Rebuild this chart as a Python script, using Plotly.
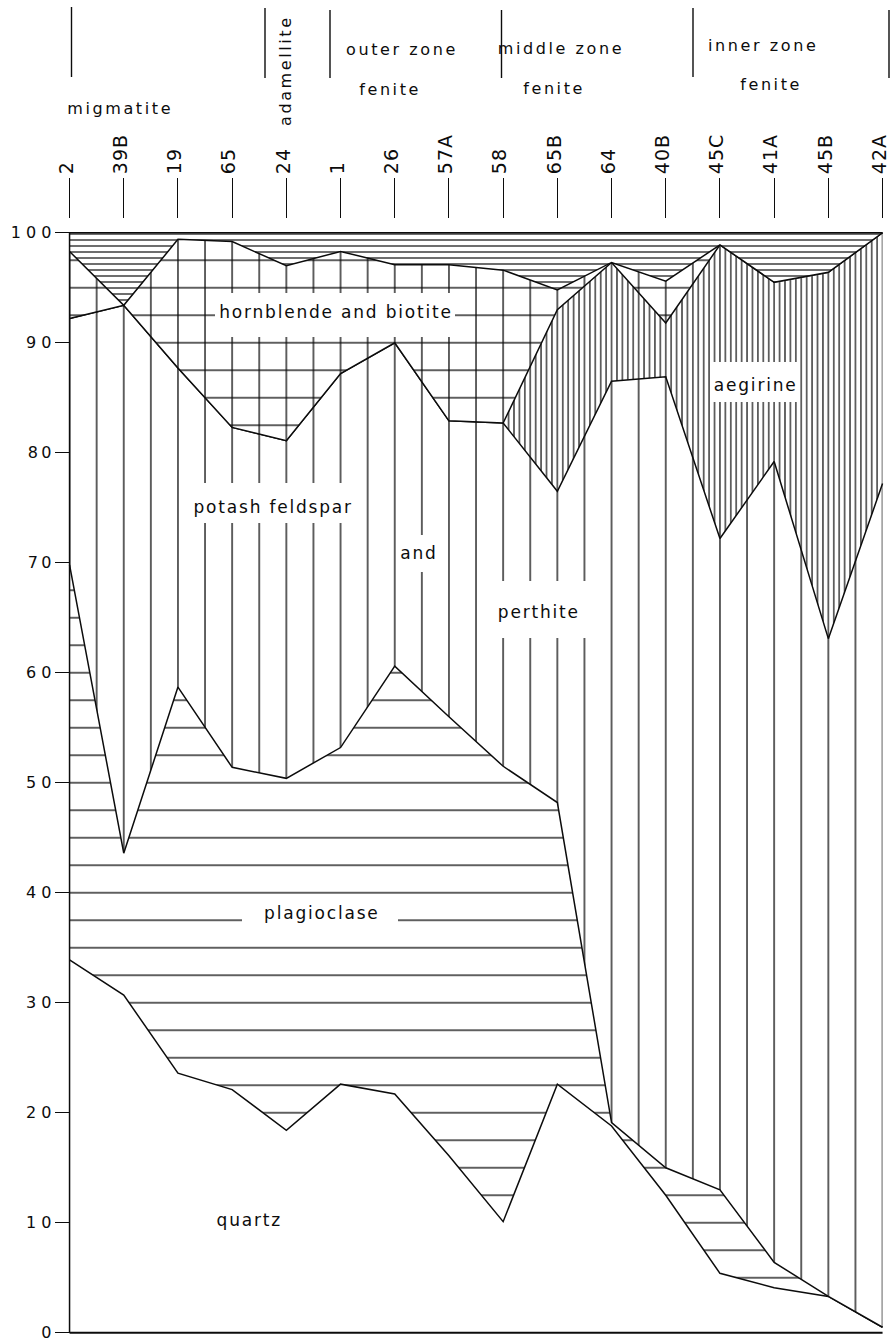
from itertools import accumulate

import plotly.graph_objects as go

# Samples along the traverse, from migmatite through the fenite zones
samples = ["2", "39B", "19", "65", "24", "1", "26", "57A", "58",
           "65B", "64", "40B", "45C", "41A", "45B", "42A"]

# Modal composition, volume per cent (stacked bottom to top)
quartz = [33.9, 30.7, 23.6, 22.1, 18.4, 22.6, 21.7, 16.1, 10.1,
          22.6, 18.8, 12.5, 5.4, 4.1, 3.3, 0.5]
plagioclase = [35.9, 12.9, 35.1, 29.3, 32.0, 30.6, 38.9, 39.9, 41.4,
               25.6, 0.3, 2.5, 7.6, 2.3, 0.0, 0.0]
potash_feldspar_perthite = [22.4, 49.8, 29.0, 30.9, 30.7, 34.0, 29.4, 26.9, 31.2,
                            28.3, 67.4, 71.9, 59.2, 72.8, 59.8, 76.7]
aegirine = [0.0, 0.0, 0.0, 0.0, 0.0, 0.0, 0.0, 0.0, 0.0,
            16.5, 10.8, 4.9, 26.7, 16.3, 33.3, 22.8]
hornblende_biotite = [6.1, 0.0, 11.7, 16.9, 15.9, 11.1, 7.1, 14.2, 13.9,
                      1.8, 0.0, 3.8, 0.0, 0.0, 0.0, 0.0]
accessories = [1.7, 6.6, 0.6, 0.8, 3.0, 1.7, 2.9, 2.9, 3.4,
               5.2, 2.7, 4.4, 1.1, 4.5, 3.6, 0.0]

y_tick_vals = [0, 10, 20, 30, 40, 50, 60, 70, 80, 90, 100]
y_tick_text = ["0", "1 0", "2 0", "3 0", "4 0", "5 0", "6 0",
               "7\u20090", "8\u20090", "9 0", "1 0 0"]

# ---- page geometry (pixels) ----
FIG_W, FIG_H = 892, 1341
STEP = 54.2             # pixels per sample
HX = STEP / 2           # vertical hatch spacing (half a sample)
UNIT = 11.0             # pixels per per-cent
HY = 2.5 * UNIT         # horizontal hatch spacing (2.5 %)
M_L, M_T, M_B, M_R = 56, 219, 5, 0
PLOT_W = FIG_W - M_L - M_R
PLOT_H = FIG_H - M_T - M_B
X_FIRST = M_L + HX / 2             # pixel column of the first sample
Y_HUNDRED = M_T + HY / 2           # pixel row of 100 %
Y_ZERO = Y_HUNDRED + 100 * UNIT
x_range = [-(X_FIRST - M_L) / STEP, (FIG_W - M_R - X_FIRST) / STEP]
y_range = [-(M_T + PLOT_H - Y_ZERO) / UNIT, 100 + (Y_HUNDRED - M_T) / UNIT]

INK = "#0c0c0c"
FONT = "DejaVu Sans"
LW = 1.5


def px_x(px):
    return (px - X_FIRST) / STEP


def px_val(py):
    return (Y_ZERO - py) / UNIT


def px_paper_y(py):
    return (M_T + PLOT_H - py) / PLOT_H


def px_paper_x(px):
    return (px - M_L) / PLOT_W


x = list(range(len(samples)))
stack = [quartz, plagioclase, potash_feldspar_perthite,
         aegirine, hornblende_biotite, accessories]
cumulative = [list(c) for c in zip(*[list(accumulate(col)) for col in zip(*stack)])]
total = cumulative[-1]


def hatch(shape, size, width=1.3, bg="white"):
    return dict(shape=shape, size=size, solidity=width / size, fgcolor=INK,
                bgcolor=bg, fillmode="replace")


layers = [
    ("quartz", quartz, None),
    ("plagioclase", plagioclase, hatch("-", HY)),
    ("potash feldspar and perthite", potash_feldspar_perthite, hatch("|", HX)),
    ("aegirine", aegirine, hatch("|", HX / 5, 1.2)),
    ("hornblende and biotite", hornblende_biotite, hatch("|", HX)),
    ("accessories", accessories, hatch("-", 6.0, 1.2)),
]

fig = go.Figure()
for name, vals, pat in layers:
    kw = dict(fillpattern=pat) if pat else dict(fillcolor="white")
    fig.add_trace(go.Scatter(
        x=x, y=vals, name=name, mode="lines", stackgroup="modes",
        line=dict(color=INK, width=LW), showlegend=False,
        hoverinfo="x+y+name", **kw))

# cross-ruling of the hornblende-biotite band: horizontal rules over its vertical ones
hb_lower, hb_upper = cumulative[3], cumulative[4]
fig.add_trace(go.Scatter(
    x=x + x[::-1], y=hb_upper + hb_lower[::-1], mode="none", fill="toself",
    fillcolor="rgba(0,0,0,0)", fillpattern=hatch("-", HY, bg="rgba(0,0,0,0)"),
    showlegend=False, hoverinfo="skip"))

# frame: left edge at the first sample and base line at 0 %
fig.add_trace(go.Scatter(x=[x[0], x[0]], y=[0, total[0]], mode="lines",
                         line=dict(color=INK, width=LW),
                         showlegend=False, hoverinfo="skip"))
fig.add_trace(go.Scatter(x=[x[0], x[-1]], y=[0, 0], mode="lines",
                         line=dict(color=INK, width=LW + 0.3),
                         showlegend=False, hoverinfo="skip"))

shapes = []
annotations = []

# mineral labels on white panels
labels = [
    ("hornblende and biotite", 336, 312, (215, 455, 293, 337)),
    ("potash feldspar", 273, 507, (183, 363, 483, 523)),
    ("and", 419, 553, (401, 441, 535, 572)),
    ("perthite", 539, 612, (490, 586, 581, 638)),
    ("aegirine", 755, 385, (711, 798, 362, 402)),
    ("plagioclase", 322, 913, (242, 398, 898, 943)),
    ("quartz", 249, 1220, None),
]
for text, cx, cy, box in labels:
    if box:
        x0, x1, y0, y1 = box
        shapes.append(dict(type="rect", xref="x", yref="y", layer="above",
                           x0=px_x(x0), x1=px_x(x1), y0=px_val(y1), y1=px_val(y0),
                           fillcolor="white", line=dict(width=0)))
    annotations.append(dict(text=text, x=px_x(cx), y=px_val(cy), xref="x", yref="y",
                            xanchor="center", yanchor="middle", showarrow=False,
                            font=dict(family=FONT, size=17, color=INK)))

# rock-unit header
for hx, hy0, hy1 in [(71.5, 7, 77), (265, 8, 78), (330, 10, 78),
                     (501.5, 10, 78), (693, 8, 77), (889, 10, 78)]:
    shapes.append(dict(type="line", xref="paper", yref="paper",
                       x0=px_paper_x(hx), x1=px_paper_x(hx),
                       y0=px_paper_y(hy0), y1=px_paper_y(hy1),
                       line=dict(color=INK, width=1.4)))

header = [
    ("migmatite", 120, 108, 0),
    ("adamellite", 286, 71, -90),
    ("outer zone", 402, 50, 0),
    ("fenite", 390, 90, 0),
    ("middle zone", 561, 48, 0),
    ("fenite", 554, 88, 0),
    ("inner zone", 763, 46, 0),
    ("fenite", 771, 84, 0),
]
for text, cx, cy, ang in header:
    annotations.append(dict(text=text, x=px_paper_x(cx), y=px_paper_y(cy),
                            xref="paper", yref="paper", xanchor="center", yanchor="middle",
                            showarrow=False, textangle=ang,
                            font=dict(family=FONT, size=16, color=INK)))

fig.update_layout(
    width=FIG_W, height=FIG_H, template="none",
    margin=dict(l=M_L, r=M_R, t=M_T, b=M_B, pad=0, autoexpand=False),
    paper_bgcolor="white", plot_bgcolor="white",
    showlegend=False, shapes=shapes, annotations=annotations,
    xaxis=dict(range=x_range, side="top", tickmode="array", tickvals=x, ticktext=samples,
               tickangle=-90, ticks="outside", ticklen=40, tickwidth=1.4, tickcolor=INK,
               showline=False, showgrid=False, zeroline=False, automargin=False,
               ticklabeloverflow="allow", ticklabelshift=-3,
               tickfont=dict(family=FONT, size=19, color=INK)),
    yaxis=dict(range=y_range, anchor="free", position=px_paper_x(X_FIRST),
               tickmode="array", tickvals=y_tick_vals, ticktext=y_tick_text,
               ticks="outside", ticklen=15, tickwidth=1.4, tickcolor=INK,
               showline=False, showgrid=False, zeroline=False, automargin=False,
               ticklabeloverflow="allow",
               tickfont=dict(family=FONT, size=16, color=INK)),
)

spacing_js = """
var wide = ['migmatite', 'adamellite', 'outer zone', 'middle zone', 'inner zone', 'fenite'];
document.querySelectorAll('.annotation-text').forEach(function(t){
  t.style.letterSpacing = wide.indexOf(t.textContent) >= 0 ? '2.6px' : '1.8px';
});
document.querySelectorAll('.xtick text').forEach(function(t){t.style.letterSpacing='1px';});
"""
fig.write_html("out.html", post_script=spacing_js)
